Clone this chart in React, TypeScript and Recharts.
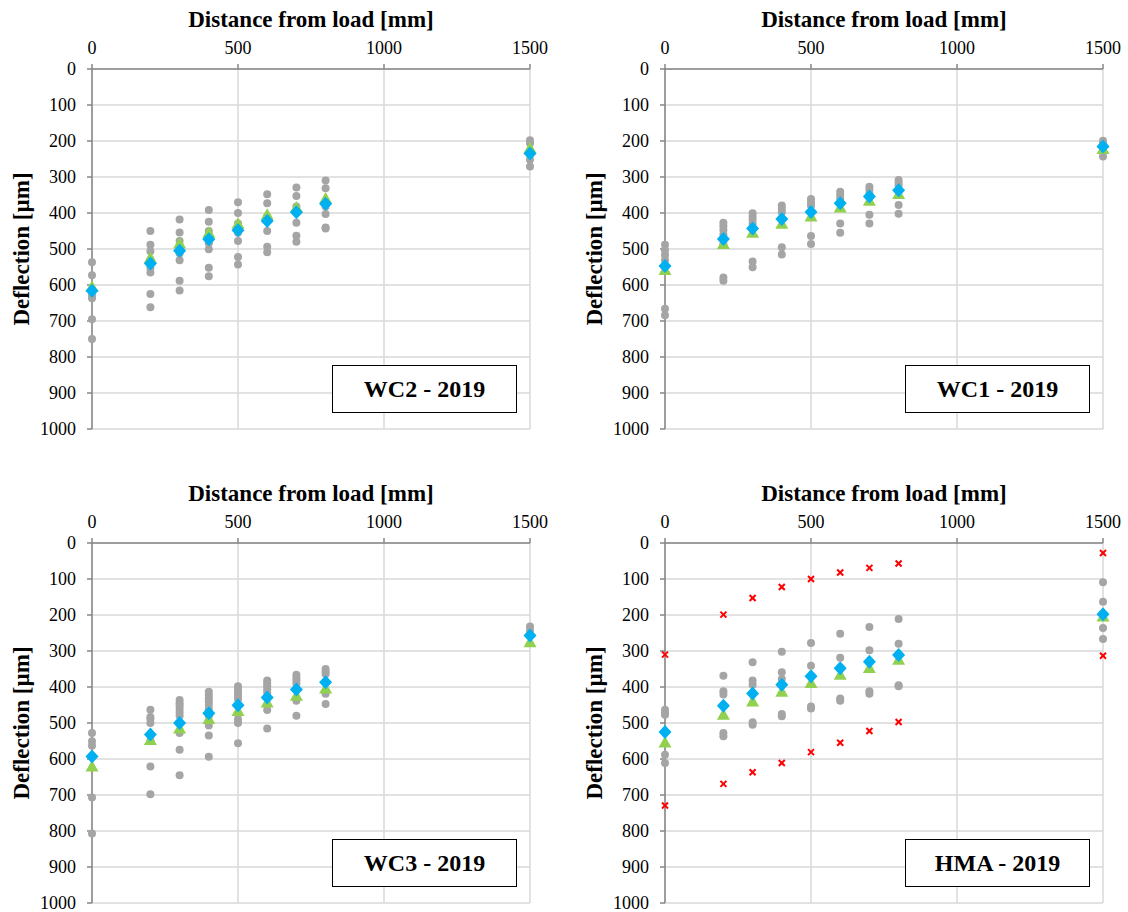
import React from 'react';
import { ScatterChart, Scatter, XAxis, YAxis, CartesianGrid, Label } from 'recharts';

// distance from load [mm] for every measurement column
const POSITIONS = [0, 200, 300, 400, 500, 600, 700, 800, 1500];
const X_TICKS = [0, 500, 1000, 1500];
const Y_TICKS = [0, 100, 200, 300, 400, 500, 600, 700, 800, 900, 1000];

// WC2 - 2019
const WC2_GREY = [
    [537, 573, 630, 637, 695, 750],
    [450, 488, 506, 530, 552, 565, 625, 662],
    [418, 454, 478, 512, 531, 588, 615],
    [392, 424, 450, 484, 501, 552, 576],
    [370, 400, 429, 455, 478, 522, 543],
    [348, 373, 410, 450, 494, 509],
    [329, 353, 382, 427, 463, 480],
    [310, 331, 382, 403, 440, 443],
    [198, 206, 252, 271],
];
const WC2_TRI = [605, 525, 485, 455, 430, 405, 385, 360, 220];
const WC2_DIA = [616, 540, 505, 473, 448, 422, 398, 374, 235];

// WC1 - 2019
const WC1_GREY = [
    [488, 503, 517, 531, 666, 684],
    [427, 437, 447, 460, 486, 579, 588],
    [401, 410, 419, 430, 535, 551],
    [379, 388, 398, 495, 515],
    [361, 370, 379, 464, 486],
    [341, 350, 360, 429, 455],
    [327, 335, 345, 405, 429],
    [308, 315, 323, 378, 402],
    [199, 208, 243],
];
const WC1_TRI = [558, 486, 455, 430, 410, 385, 366, 347, 222];
const WC1_DIA = [547, 472, 443, 417, 397, 373, 354, 337, 215];

// WC3 - 2019
const WC3_GREY = [
    [528, 551, 563, 707, 807],
    [463, 483, 489, 500, 549, 621, 698],
    [436, 445, 452, 461, 470, 480, 528, 574, 645],
    [413, 422, 431, 440, 450, 461, 480, 507, 535, 594],
    [398, 406, 415, 424, 433, 475, 490, 500, 556],
    [382, 390, 398, 406, 415, 464, 515],
    [366, 374, 382, 390, 438, 480],
    [350, 357, 364, 419, 447],
    [232, 243],
];
const WC3_TRI = [621, 547, 515, 489, 467, 443, 424, 404, 276];
const WC3_DIA = [593, 532, 500, 473, 451, 429, 407, 387, 257];

// HMA - 2019
const HMA_GREY = [
    [463, 470, 477, 588, 611],
    [369, 412, 421, 528, 537],
    [331, 382, 394, 498, 505],
    [302, 359, 378, 475, 481],
    [278, 341, 454, 460],
    [252, 319, 432, 438],
    [233, 298, 412, 419],
    [211, 280, 395, 398],
    [109, 163, 236, 267],
];
const HMA_TRI = [554, 477, 440, 413, 389, 366, 347, 324, 204];
const HMA_DIA = [525, 452, 418, 394, 370, 348, 330, 311, 198];
const HMA_RED_UPPER = [310, 199, 153, 122, 100, 82, 69, 57, 28];
const HMA_RED_LOWER = [729, 669, 637, 611, 581, 555, 522, 497, 313];

const FONT = "'Liberation Serif', 'Times New Roman', serif";
const AXIS_COLOR = '#868686';
const GRID_COLOR = '#d9d9d9';

const toPoints = (values: number[]) => POSITIONS.map((x, i) => ({ x, y: values[i] }));
const toGroupPoints = (groups: number[][]) =>
    POSITIONS.flatMap((x, i) => groups[i].map(y => ({ x, y })));

// tick text drawn by hand so the serif font sticks
const XTick = (props: any) => (
    <text x={props.x} y={props.y} textAnchor="middle" fontFamily={FONT} fontSize={18} fill="#000">
        {props.payload.value}
    </text>
);
const YTick = (props: any) => (
    <text x={props.x} y={props.y} dy={6} textAnchor="end" fontFamily={FONT} fontSize={18} fill="#000">
        {props.payload.value}
    </text>
);

const GreyDot = (props: any) => <circle cx={props.cx} cy={props.cy} r={4} fill="#a5a5a5" />;
const GreenTriangle = (props: any) => {
    const { cx, cy } = props;
    return <polygon points={`${cx},${cy - 6.5} ${cx - 6.5},${cy + 5} ${cx + 6.5},${cy + 5}`} fill="#92d050" />;
};
const BlueDiamond = (props: any) => {
    const { cx, cy } = props;
    return <polygon points={`${cx},${cy - 7} ${cx + 6.5},${cy} ${cx},${cy + 7} ${cx - 6.5},${cy}`} fill="#00b0f0" />;
};
const RedCross = (props: any) => {
    const { cx, cy } = props;
    return (
        <g stroke="#ff0000" strokeWidth={2}>
            <line x1={cx - 3} y1={cy - 3} x2={cx + 3} y2={cy + 3} />
            <line x1={cx - 3} y1={cy + 3} x2={cx + 3} y2={cy - 3} />
        </g>
    );
};

interface PanelProps {
    name: string;
    left: number;
    top: number;
    grey: number[][];
    tri: number[];
    dia: number[];
    redUpper?: number[];
    redLower?: number[];
}

const Panel: React.FC<PanelProps> = ({ name, left, top, grey, tri, dia, redUpper, redLower }) => {
    const titleStyle = { fontFamily: FONT, fontSize: 23, fontWeight: 'bold', fill: '#000' };
    return (
        <div style={{ position: 'absolute', left, top, width: 555, height: 456, fontFamily: FONT }}>
            <ScatterChart
                width={555}
                height={456}
                margin={{ top: 39, right: 25, bottom: 27, left: 0 }}
                style={{ fontFamily: FONT }}
            >
                <CartesianGrid stroke={GRID_COLOR} strokeWidth={1.5} />
                <XAxis
                    type="number"
                    dataKey="x"
                    orientation="top"
                    domain={[0, 1500]}
                    ticks={X_TICKS}
                    height={30}
                    tickSize={5}
                    tickMargin={10}
                    axisLine={{ stroke: AXIS_COLOR, strokeWidth: 1.5 }}
                    tickLine={{ stroke: AXIS_COLOR, strokeWidth: 1.5 }}
                    tick={XTick}
                    interval={0}
                >
                    <Label value="Distance from load [mm]" position="top" offset={12} style={titleStyle} />
                </XAxis>
                <YAxis
                    type="number"
                    dataKey="y"
                    reversed
                    domain={[0, 1000]}
                    ticks={Y_TICKS}
                    width={92}
                    tickSize={5}
                    tickMargin={11}
                    axisLine={{ stroke: AXIS_COLOR, strokeWidth: 1.5 }}
                    tickLine={{ stroke: AXIS_COLOR, strokeWidth: 1.5 }}
                    tick={YTick}
                    interval={0}
                >
                    <Label
                        value="Deflection [µm]"
                        angle={-90}
                        position="insideLeft"
                        offset={21}
                        style={{ ...titleStyle, textAnchor: 'middle' }}
                    />
                </YAxis>
                <Scatter data={toGroupPoints(grey)} shape={GreyDot} isAnimationActive={false} />
                <Scatter data={toPoints(tri)} shape={GreenTriangle} isAnimationActive={false} />
                <Scatter data={toPoints(dia)} shape={BlueDiamond} isAnimationActive={false} />
                {redUpper && <Scatter data={toPoints(redUpper)} shape={RedCross} isAnimationActive={false} />}
                {redLower && <Scatter data={toPoints(redLower)} shape={RedCross} isAnimationActive={false} />}
            </ScatterChart>
            <div style={{
                position: 'absolute',
                left: 332,
                top: 365,
                width: 185,
                height: 48,
                boxSizing: 'border-box',
                border: '1.5px solid #000',
                background: '#fff',
                display: 'flex',
                alignItems: 'center',
                justifyContent: 'center',
                fontFamily: FONT,
                fontWeight: 'bold',
                fontSize: 24,
            }}>
                {name}
            </div>
        </div>
    );
};

export default function App() {
    return (
        <div style={{ position: 'absolute', left: 0, top: 0, width: 1128, height: 912, background: '#fff', overflow: 'hidden' }}>
            <Panel name="WC2 - 2019" left={0} top={0} grey={WC2_GREY} tri={WC2_TRI} dia={WC2_DIA} />
            <Panel name="WC1 - 2019" left={573} top={0} grey={WC1_GREY} tri={WC1_TRI} dia={WC1_DIA} />
            <Panel name="WC3 - 2019" left={0} top={474} grey={WC3_GREY} tri={WC3_TRI} dia={WC3_DIA} />
            <Panel
                name="HMA - 2019"
                left={573}
                top={474}
                grey={HMA_GREY}
                tri={HMA_TRI}
                dia={HMA_DIA}
                redUpper={HMA_RED_UPPER}
                redLower={HMA_RED_LOWER}
            />
        </div>
    );
}
